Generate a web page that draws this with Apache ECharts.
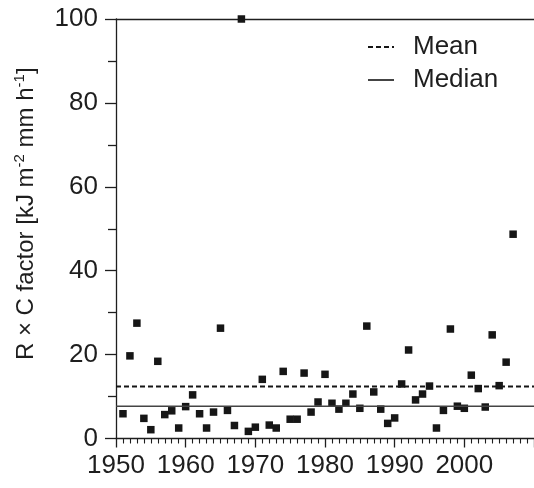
<!DOCTYPE html>
<html>
<head>
<meta charset="utf-8">
<script src="https://cdn.jsdelivr.net/npm/echarts@6/dist/echarts.min.js"></script>
<style>html,body{margin:0;padding:0;background:#fff}#c{width:534px;height:488px}</style>
</head>
<body>
<div id="c"></div>
<script>
// ---- data ----
const YEARS = [1951,1952,1953,1954,1955,1956,1957,1958,1959,1960,
               1961,1962,1963,1964,1965,1966,1967,1968,1969,1970,
               1971,1972,1973,1974,1975,1976,1977,1978,1979,1980,
               1981,1982,1983,1984,1985,1986,1987,1988,1989,1990,
               1991,1992,1993,1994,1995,1996,1997,1998,1999,2000,
               2001,2002,2003,2004,2005,2006,2007];
const VALUES = [5.9,19.7,27.5,4.8,2.1,18.4,5.7,6.6,2.5,7.6,
                10.4,5.9,2.5,6.3,26.3,6.7,3.1,100,1.7,2.7,
                14.1,3.2,2.5,16.0,4.6,4.6,15.6,6.3,8.7,15.3,
                8.4,7.0,8.4,10.6,7.2,26.8,11.1,7.0,3.6,4.9,
                13.0,21.1,9.2,10.6,12.5,2.5,6.7,26.1,7.7,7.2,
                15.1,11.9,7.5,24.7,12.6,18.2,48.7];
const MEAN = 12.4;
const MEDIAN = 7.7;
const X_TICK_LABELS = [1950,1960,1970,1980,1990,2000];
const Y_TICK_LABELS = [0,20,40,60,80,100];
const SERIES_NAMES = ['Mean','Median'];
const Y_TITLE = ['R × C factor [kJ m','-2',' mm h','-1',']'];

// ---- chart ----
const FONT = 'Liberation Sans';
const INK = '#1e1e1e';
const X_MIN = X_TICK_LABELS[0], X_MAX = 2010;
const Y_MIN = Y_TICK_LABELS[0], Y_MAX = Y_TICK_LABELS[Y_TICK_LABELS.length-1];

const chart = echarts.init(document.getElementById('c'), null, {renderer:'canvas'});
chart.setOption({
  animation: false,
  backgroundColor: '#fff',
  textStyle: {fontFamily: FONT, color: INK},
  grid: {left: 116, right: -17.4, top: 19, bottom: 49.5, containLabel: false},
  legend: {
    orient: 'vertical', left: 367, top: 32, padding: 0,
    itemWidth: 26, itemHeight: 14, itemGap: 3,
    itemStyle: {opacity: 0},
    data: SERIES_NAMES,
    textStyle: {fontFamily: FONT, fontSize: 26, color: INK, lineHeight: 30, padding: [0,0,0,14]}
  },
  xAxis: [{
    type: 'value', min: X_MIN, max: X_MAX, interval: 10, position: 'bottom',
    axisLine: {show: true, onZero: false, lineStyle: {color: INK, width: 1.3}},
    axisTick: {show: true, length: 9, lineStyle: {color: INK, width: 1.3}},
    minorTick: {show: true, splitNumber: 10, length: 5, lineStyle: {color: INK, width: 1.1}},
    axisLabel: {fontFamily: FONT, fontSize: 26, color: INK, margin: 14, showMaxLabel: false,
                formatter: v => X_TICK_LABELS.includes(v) ? String(v) : ''},
    splitLine: {show: false}
  }, {
    type: 'value', min: X_MIN, max: X_MAX, position: 'top',
    axisLine: {show: true, onZero: false, lineStyle: {color: INK, width: 1.3}},
    axisTick: {show: false}, axisLabel: {show: false}, splitLine: {show: false}
  }],
  yAxis: {
    type: 'value', min: Y_MIN, max: Y_MAX, interval: 20,
    axisLine: {show: true, onZero: false, lineStyle: {color: INK, width: 1.3}},
    axisTick: {show: true, length: 11, lineStyle: {color: INK, width: 1.3}},
    minorTick: {show: true, splitNumber: 2, length: 8, lineStyle: {color: INK, width: 1.3}},
    axisLabel: {fontFamily: FONT, fontSize: 26, color: INK, margin: 18},
    splitLine: {show: false},
    name: '{a|' + Y_TITLE[0] + '}{s|' + Y_TITLE[1] + '}{a|' + Y_TITLE[2] + '}{s|' + Y_TITLE[3] + '}{a|' + Y_TITLE[4] + '}',
    nameLocation: 'middle', nameGap: 76,
    nameTextStyle: {
      fontFamily: FONT, fontSize: 24, color: INK, padding: [0,0,0,30],
      rich: {
        a: {fontFamily: FONT, fontSize: 24, color: INK, lineHeight: 28},
        s: {fontFamily: FONT, fontSize: 15, color: INK, verticalAlign: 'top', lineHeight: 14}
      }
    }
  },
  series: [{
    type: 'scatter', name: 'data', xAxisIndex: 0,
    symbol: 'rect', symbolSize: 7.5, clip: false,
    itemStyle: {color: '#161616', opacity: 1},
    data: YEARS.map((y, i) => [y, VALUES[i]])
  }, {
    type: 'line', name: SERIES_NAMES[0], xAxisIndex: 0,
    symbol: 'none', silent: true,
    lineStyle: {color: '#151515', width: 2, type: [5, 3]},
    itemStyle: {color: INK},
    data: [[X_MIN, MEAN], [X_MAX, MEAN]]
  }, {
    type: 'line', name: SERIES_NAMES[1], xAxisIndex: 0,
    symbol: 'none', silent: true,
    lineStyle: {color: '#444', width: 1.4, type: 'solid'},
    itemStyle: {color: '#444'},
    data: [[X_MIN, MEDIAN], [X_MAX, MEDIAN]]
  }]
});
</script>
</body>
</html>
